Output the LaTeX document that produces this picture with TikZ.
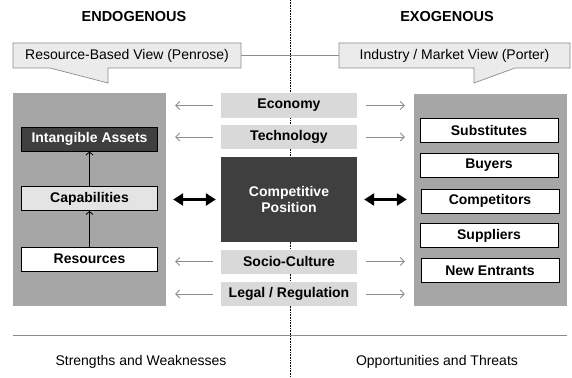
\documentclass[tikz,border=0pt]{standalone}
\usepackage{fontspec}
\setmainfont{Liberation Sans}
\usepackage{tikz}
\usetikzlibrary{arrows.meta}
\definecolor{panelgray}{HTML}{A6A6A6}
\definecolor{lightbox}{HTML}{D9D9D9}
\definecolor{darkbox}{HTML}{3F3F3F}
\definecolor{calloutfill}{HTML}{EBEBEB}
\definecolor{linegray}{HTML}{8C8C8C}

\begin{document}
\begin{tikzpicture}[x=1pt,y=-1pt,
    every node/.style={font=\fontsize{14}{16}\selectfont},
    panel/.style={fill=panelgray,minimum width=153pt,inner sep=0pt},
    factor/.style={fill=lightbox,minimum width=136pt,minimum height=24pt,inner sep=0pt,font=\fontsize{14}{16}\selectfont\bfseries},
    item/.style={draw=black,line width=0.9pt,minimum width=136pt,minimum height=24pt,inner sep=0pt,font=\fontsize{14}{16}\selectfont\bfseries},
    heading/.style={font=\fontsize{14.5}{16}\selectfont\bfseries},
    callout/.style={fill=calloutfill,draw=linegray,line width=0.7pt},
    flow/.style={draw=linegray,line width=0.8pt,-{Straight Barb[length=4pt,width=8pt]}},
    buildup/.style={draw=black,line width=0.8pt,-{Straight Barb[length=3pt,width=7pt]}},
    link/.style={line width=2.8pt,{Triangle[length=10pt,width=12pt]}-{Triangle[length=10pt,width=12pt]}}]
\useasboundingbox (0,0) rectangle (572,377);

\draw[densely dotted,line width=0.6pt] (290,0) -- (290,377);
\draw[linegray,line width=0.6pt] (13,335) -- (567,335);

\node[heading] (endohead) at (134,17) {ENDOGENOUS};
\node[heading] (exohead) at (447,17) {EXOGENOUS};

\draw[callout] (13,43) -- (241,43) -- (241,68) -- (108,68) -- (108,83) -- (50,68) -- (13,68) -- cycle;
\draw[callout] (339,43) -- (570,43) -- (570,68) -- (515,68) -- (474,83) -- (474,68) -- (339,68) -- cycle;
\node[minimum width=228pt,minimum height=25pt,inner sep=0pt] (rbv) at (127,55.5) {Resource-Based View (Penrose)};
\node[minimum width=231pt,minimum height=25pt,inner sep=0pt] (imv) at (454.5,55.5) {Industry / Market View (Porter)};
\draw[linegray,line width=0.6pt] (rbv.east) -- (imv.west);

\node[panel,minimum height=213pt] (endo) at (89.5,199.5) {};
\node[panel,minimum height=212pt] (exo) at (490.5,200) {};

\node[item,fill=darkbox,text=white] (intang) at (89.5,139) {Intangible Assets};
\node[item,fill=lightbox!70!white] (capab) at (89.5,198.5) {Capabilities};
\node[item,fill=white] (resour) at (89.5,259) {Resources};
\draw[buildup] (resour) -- (capab);
\draw[buildup] (capab) -- (intang);

\node[factor] (econ) at (289,105.5) {Economy};
\node[factor] (tech) at (289,137) {Technology};
\node[factor,fill=darkbox,text=white,minimum height=85pt,align=center] (comp) at (289,199.5) {Competitive\\Position};
\node[factor] (socio) at (289,261.5) {Socio-Culture};
\node[factor] (legal) at (289,294) {Legal / Regulation};

\foreach \f in {econ,tech,socio,legal}{
  \draw[flow,shorten <=8pt,shorten >=9pt] (\f.west) -- (\f.west -| endo.east);
  \draw[flow,shorten <=9pt,shorten >=9pt] (\f.east) -- (\f.east -| exo.west);
}

\node[item,fill=white,minimum width=138pt] (subst) at (489,130.5) {Substitutes};
\node[item,fill=white,minimum width=138pt] (buyer) at (489,165.5) {Buyers};
\node[item,fill=white,minimum width=138pt] (compet) at (490,201) {Competitors};
\node[item,fill=white,minimum width=138pt] (suppl) at (489,235.5) {Suppliers};
\node[item,fill=white,minimum width=138pt] (entrant) at (490,270.5) {New Entrants};

\draw[link,shorten <=5pt,shorten >=7pt] (comp.west) -- (comp.west -| endo.east);
\draw[link,shorten <=7pt,shorten >=7pt] (comp.east) -- (comp.east -| exo.west);

\node (strength) at (141,362) {Strengths and Weaknesses};
\node (opport) at (437,362) {Opportunities and Threats};
\end{tikzpicture}
\end{document}
